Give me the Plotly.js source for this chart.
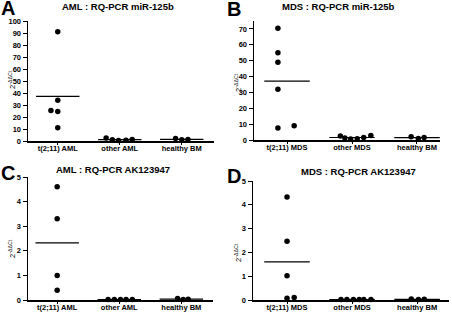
<!DOCTYPE html>
<html><head><meta charset="utf-8">
<script src="https://cdn.plot.ly/plotly-3.0.1.min.js"></script>
<style>html,body{margin:0;padding:0;background:#fff;}</style>
</head><body><div id="chart" style="width:452px;height:313px;"></div>
<script>
// ---- data ----
const catsAML = ["t(2;11) AML", "other AML", "healthy BM"];
const catsMDS = ["t(2;11) MDS", "other MDS", "healthy BM"];

// Panel A: AML miR-125b
const aT = [91, 34, 25.5, 24.5, 11];
const aTx = [0, 0, -0.11, 0, 0];
const aO = [2.5, 1.0, 0.5, 0.6, 1.2];
const aOx = [-0.22, -0.12, -0.02, 0.1, 0.2];
const aH = [2.0, 1.0, 1.3];
const aHx = [-0.1, 0, 0.1];

// Panel B: MDS miR-125b
const bT = [70.5, 55, 49, 32, 7.5, 9];
const bTx = [-0.14, -0.14, -0.14, -0.14, -0.14, 0.11];
const bO = [2.5, 1.2, 0.6, 0.8, 1.5, 2.8];
const bOx = [-0.18, -0.11, -0.02, 0.08, 0.18, 0.29];
const bH = [2.0, 1.0, 1.5];
const bHx = [-0.09, 0.02, 0.11];

// Panel C: AML AK123947
const cT = [4.6, 3.3, 1.0, 0.4];
const cTx = [0, 0, 0, 0];
const cO = [0.02, 0.02, 0.02, 0.02, 0.02];
const cOx = [-0.18, -0.08, 0.02, 0.11, 0.21];
const cH = [0.06, 0.02, 0.03];
const cHx = [-0.06, 0.03, 0.11];

// Panel D: MDS AK123947
const dT = [4.33, 2.47, 1.02, 0.07, 0.1];
const dTx = [0, 0, 0, 0, 0.11];
const dO = [0.02, 0.02, 0.02, 0.02, 0.02, 0.02];
const dOx = [-0.17, -0.08, 0.02, 0.11, 0.18, 0.29];
const dH = [0.04, 0.02, 0.03];
const dHx = [-0.09, 0.02, 0.11];

const titles = ["AML : RQ-PCR miR-125b", "MDS : RQ-PCR miR-125b", "AML : RQ-PCR AK123947", "MDS : RQ-PCR AK123947"];
const letters = ["A", "B", "C", "D"];

// ---- build ----
const FONT = "Liberation Sans, Arial, sans-serif";
const traces = [];
function mean(a){ return a.reduce((s,v)=>s+v,0)/a.length; }
function addPanel(sfx, groups){
  const xa = "x" + sfx, ya = "y" + sfx;
  groups.forEach((g, i) => {
    traces.push({type:"scatter", mode:"markers", xaxis:xa, yaxis:ya,
      x: g.dx.map(d => i + d), y: g.v, cliponaxis:false,
      marker:{color:"#000", size:5.5}, hoverinfo:"skip"});
    const m = mean(g.v);
    traces.push({type:"scatter", mode:"lines", xaxis:xa, yaxis:ya,
      x:[i-0.35, i+0.35], y:[m, m], cliponaxis:false,
      line:{color:"#000", width:1.2}, hoverinfo:"skip"});
  });
}
addPanel("", [{v:aT,dx:aTx},{v:aO,dx:aOx},{v:aH,dx:aHx}]);
addPanel("2", [{v:bT,dx:bTx},{v:bO,dx:bOx},{v:bH,dx:bHx}]);
addPanel("3", [{v:cT,dx:cTx},{v:cO,dx:cOx},{v:cH,dx:cHx}]);
addPanel("4", [{v:dT,dx:dTx},{v:dO,dx:dOx},{v:dH,dx:dHx}]);

const W = 452, H = 313;
function xax(l, r, range, cats){
  return {domain:[l/W, r/W], range:range, showgrid:false, zeroline:false,
    showline:true, linecolor:"#000", linewidth:1.5, ticks:"outside", ticklen:2,
    tickwidth:1, tickcolor:"#000", tickvals:[0,1,2], ticktext:cats,
    ticklabelstandoff:-3,
    tickfont:{family:FONT, size:7.5, color:"#000", weight:"bold"}, fixedrange:true};
}
function yax(bot, top, range, dtick, anchor){
  return {domain:[(H-bot)/H, (H-top)/H], range:range, dtick:dtick, tick0:0,
    showgrid:false, zeroline:false, showline:true, linecolor:"#000", linewidth:1.5,
    ticks:"outside", ticklen:4, tickwidth:1, tickcolor:"#000", anchor:anchor,
    tickfont:{family:FONT, size:7.5, color:"#000", weight:"bold"}, fixedrange:true};
}

const layout = {
  width:W, height:H, autosize:false, showlegend:false,
  margin:{l:0,r:0,t:0,b:0}, paper_bgcolor:"#fff", plot_bgcolor:"#fff",
  xaxis: Object.assign(xax(28, 214, [-0.48, 2.52], catsAML), {anchor:"y"}),
  yaxis: yax(141, 21, [0, 100], 10, "x"),
  xaxis2: Object.assign(xax(254, 440, [-0.508, 2.354], catsMDS), {anchor:"y2"}),
  yaxis2: yax(140, 21, [0, 75], 10, "x2"),
  xaxis3: Object.assign(xax(28, 213, [-0.47, 2.51], catsAML), {anchor:"y3"}),
  yaxis3: yax(300, 177, [0, 5], 1, "x3"),
  xaxis4: Object.assign(xax(253, 449, [-0.523, 2.49], catsMDS), {anchor:"y4"}),
  yaxis4: yax(300, 181, [0, 5], 1, "x4"),
  annotations: []
};

const titlePos = [[118, 7], [338, 7], [113, 169], [358, 171]];
const letterPos = [[0, 8], [226, 9], [0, 173], [226, 176]];
const ytitlePos = [[12, 80], [238, 83], [12, 249], [238, 253]];
for (let i = 0; i < 4; i++) {
  layout.annotations.push({xref:"paper", yref:"paper", x:titlePos[i][0]/W, y:(H-titlePos[i][1])/H,
    xanchor:"center", yanchor:"middle", showarrow:false, text:titles[i],
    font:{family:FONT, size:9.5, color:"#000", weight:"bold"}});
  layout.annotations.push({xref:"paper", yref:"paper", x:letterPos[i][0]/W, y:(H-letterPos[i][1])/H,
    xanchor:"left", yanchor:"middle", showarrow:false, text:letters[i],
    font:{family:FONT, size:20, color:"#000", weight:"bold"}, borderpad:0});
  layout.annotations.push({xref:"paper", yref:"paper", x:ytitlePos[i][0]/W, y:(H-ytitlePos[i][1])/H,
    xanchor:"center", yanchor:"middle", showarrow:false, textangle:-90,
    text:"2<sup>-\u0394\u0394Ct</sup>",
    font:{family:FONT, size:7.5, color:"#000"}});
}

Plotly.newPlot("chart", traces, layout, {staticPlot:true, displayModeBar:false});
</script></body></html>
